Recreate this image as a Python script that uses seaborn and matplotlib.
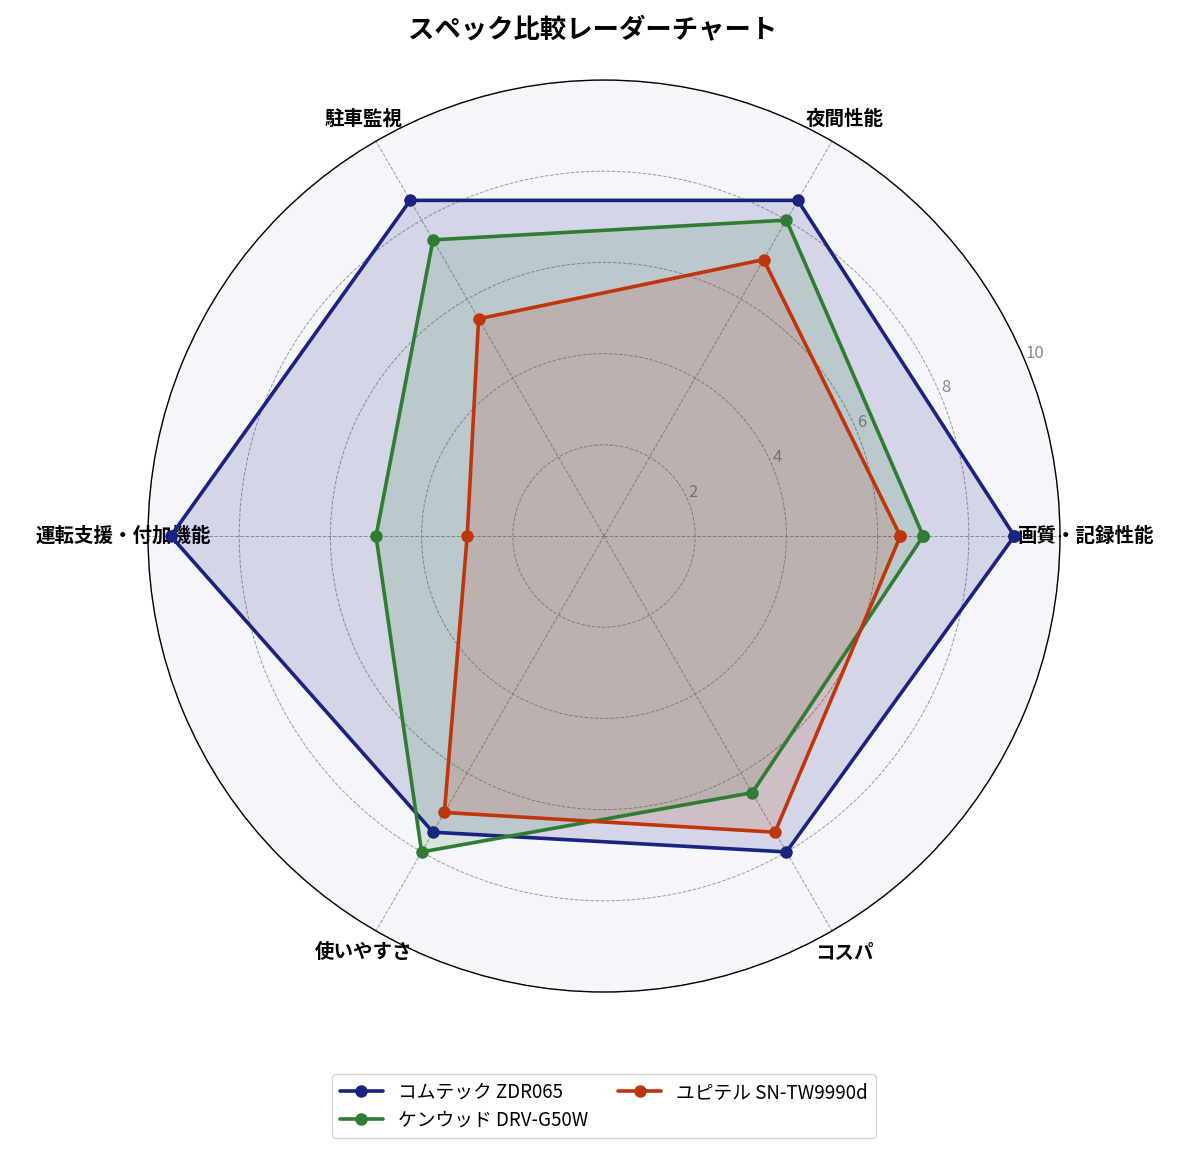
import numpy as np
import pandas as pd
import matplotlib
matplotlib.use("Agg")
import matplotlib.pyplot as plt
import seaborn as sns

categories = ["画質・記録性能", "夜間性能", "駐車監視", "運転支援・付加機能", "使いやすさ", "コスパ"]
series_names = ["コムテック ZDR065", "ケンウッド DRV-G50W", "ユピテル SN-TW9990d"]
comtec = [9.0, 8.5, 8.5, 9.5, 7.5, 8.0]
kenwood = [7.0, 8.0, 7.5, 5.0, 8.0, 6.5]
yupiteru = [6.5, 7.0, 5.5, 3.0, 7.0, 7.5]
rticks = [2, 4, 6, 8, 10]
colors = ["#1a237e", "#2e7d32", "#bf360c"]

sns.set_theme(style="white")
plt.rcParams['font.family'] = ['Noto Sans CJK JP', 'DejaVu Sans']
plt.rcParams['text.color'] = 'black'

rows = []
for name, vals in zip(series_names, [comtec, kenwood, yupiteru]):
    for c, v in zip(categories, vals):
        rows.append({"series": name, "category": c, "value": v})
df = pd.DataFrame(rows)

n = len(categories)
angles = np.linspace(0, 2 * np.pi, n, endpoint=False)
cat_angle = dict(zip(categories, angles))

fig = plt.figure(figsize=(11.85, 11.53), dpi=100)
ax = fig.add_axes([0.5097 - 0.3848, 0.5351 - 0.3955, 0.7696, 0.791], projection="polar")
ax.set_facecolor("#f5f6fa")

for name, col in zip(series_names, colors):
    sub = df[df["series"] == name]
    th = [cat_angle[c] for c in sub["category"]]
    vals = list(sub["value"])
    th_c = th + [th[0]]
    v_c = vals + [vals[0]]
    ax.fill(th_c, v_c, color=col, alpha=0.15, zorder=2)
    sns.lineplot(x=th_c, y=v_c, ax=ax, color=col, linewidth=2.6, marker="o",
                 markersize=9, markeredgewidth=0, sort=False, label=name,
                 estimator=None, zorder=3)

ax.set_ylim(0, 10)
ax.set_yticks(rticks)
ax.set_yticklabels([str(t) for t in rticks], fontsize=12, color="#888888")
ax.set_rlabel_position(22.5)
ax.set_xticks(angles)
ax.set_xticklabels(categories, fontsize=14, fontweight="bold", color="black")
ax.tick_params(axis="x", pad=5)
ax.grid(True, color="#999999", linestyle="--", linewidth=0.7)
ax.spines["polar"].set_color("black")
ax.spines["polar"].set_linewidth(1.0)
ax.set_xlabel("")
ax.set_ylabel("")

fig.suptitle("スペック比較レーダーチャート", fontsize=19, fontweight="bold", y=0.985, color="black")

leg = ax.legend(loc="center", bbox_to_anchor=(0.5, -0.125), ncol=2, fontsize=13.5,
                frameon=True, handlelength=2.3, columnspacing=1.6, borderpad=0.4,
                labelspacing=0.35)
for t in leg.get_texts():
    t.set_color("black")

fig.savefig("out.png", dpi=100)
